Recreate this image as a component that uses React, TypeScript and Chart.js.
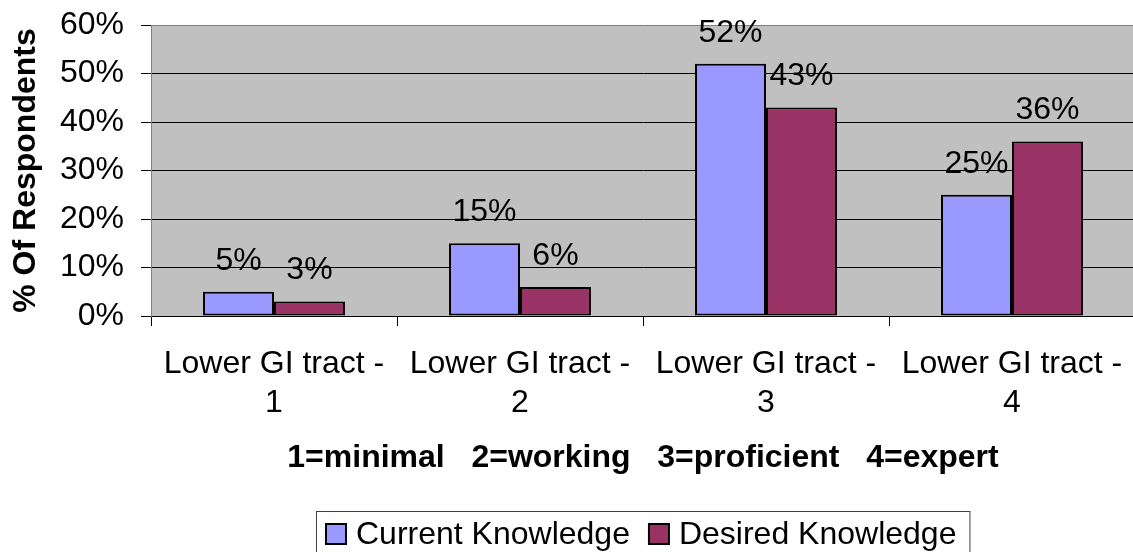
import React, { useEffect, useRef } from "react";
import { Chart, registerables } from "chart.js";

Chart.register(...registerables);

const categories: string[][] = [
  ["Lower GI tract -", "1"],
  ["Lower GI tract -", "2"],
  ["Lower GI tract -", "3"],
  ["Lower GI tract -", "4"],
];
const currentKnowledge: number[] = [5, 15, 52, 25];
const desiredKnowledge: number[] = [3, 6, 43, 36];
const seriesNames: string[] = ["Current Knowledge", "Desired Knowledge"];
const yAxisTitle = "% Of Respondents";
const xAxisTitle = "1=minimal   2=working   3=proficient   4=expert";

const FONT = '"Liberation Sans", Arial, Helvetica, sans-serif';
const FS = 32;
const BLUE = "#9999FF";
const MAROON = "#993366";
const PLOT_BG = "#C0C0C0";

const plotBackground = {
  id: "plotBackground",
  beforeDraw(chart: any) {
    const { ctx, chartArea } = chart;
    ctx.save();
    ctx.fillStyle = PLOT_BG;
    ctx.fillRect(chartArea.left, chartArea.top, chartArea.right - chartArea.left, chartArea.bottom - chartArea.top);
    ctx.restore();
  },
};

const valueLabels = {
  id: "valueLabels",
  afterDatasetsDraw(chart: any) {
    const ctx = chart.ctx;
    ctx.save();
    ctx.font = `${FS}px ${FONT}`;
    ctx.fillStyle = "#000";
    ctx.textAlign = "center";
    ctx.textBaseline = "alphabetic";
    chart.data.datasets.forEach((ds: any, i: number) => {
      chart.getDatasetMeta(i).data.forEach((bar: any, j: number) => {
        ctx.fillText(ds.data[j] + "%", bar.x, bar.y - 22);
      });
    });
    ctx.restore();
  },
};

const boxedLegend = {
  id: "boxedLegend",
  afterDraw(chart: any) {
    const ctx = chart.ctx;
    ctx.save();
    ctx.font = `${FS}px ${FONT}`;
    const items = chart.data.datasets.map((ds: any) => ({
      label: ds.label as string,
      color: ds.backgroundColor as string,
      w: ctx.measureText(ds.label).width,
    }));
    const box = 22, gapBT = 9, gapItems = 18, padL = 9, padR = 13;
    let total = padL + padR + gapItems * (items.length - 1);
    items.forEach((it: any) => (total += box + gapBT + it.w));
    const cx = (chart.chartArea.left + chart.chartArea.right) / 2;
    const left = Math.round(cx - total / 2);
    const top = chart.height - 41;
    ctx.strokeStyle = "#404040";
    ctx.lineWidth = 1;
    ctx.strokeRect(left + 0.5, top + 0.5, total, 80);
    let x = left + padL;
    const baseline = top + 33;
    items.forEach((it: any) => {
      ctx.fillStyle = it.color;
      ctx.fillRect(x + 1, top + 13, box - 2, box - 2);
      ctx.strokeStyle = "#000";
      ctx.lineWidth = 2;
      ctx.strokeRect(x + 1, top + 13, box - 2, box - 2);
      x += box + gapBT;
      ctx.fillStyle = "#000";
      ctx.textAlign = "left";
      ctx.textBaseline = "alphabetic";
      ctx.fillText(it.label, x, baseline);
      x += it.w + gapItems;
    });
    ctx.restore();
  },
};

export default function App() {
  const ref = useRef<HTMLCanvasElement | null>(null);

  useEffect(() => {
    if (!ref.current) return;
    const chart = new Chart(ref.current, {
      type: "bar",
      data: {
        labels: categories,
        datasets: [
          {
            label: seriesNames[0],
            data: currentKnowledge,
            backgroundColor: BLUE,
            borderColor: "#000",
            borderWidth: 2,
            borderSkipped: false,
          },
          {
            label: seriesNames[1],
            data: desiredKnowledge,
            backgroundColor: MAROON,
            borderColor: "#000",
            borderWidth: 2,
            borderSkipped: false,
          },
        ],
      },
      options: {
        responsive: false,
        animation: false,
        devicePixelRatio: 1,
        layout: { padding: { left: 0, right: 1, top: 25, bottom: 75 } },
        datasets: { bar: { categoryPercentage: 0.577, barPercentage: 1 } },
        plugins: {
          legend: { display: false },
          tooltip: { enabled: false },
        },
        scales: {
          x: {
            type: "category",
            grid: {
              offset: true,
              drawOnChartArea: false,
              drawTicks: true,
              tickLength: 10,
              color: "#000",
            },
            border: { display: true, color: "#000", width: 1 },
            ticks: {
              color: "#000",
              font: { family: FONT, size: FS, lineHeight: 1.22 },
              padding: 19,
              maxRotation: 0,
              minRotation: 0,
              autoSkip: false,
            },
            title: {
              display: true,
              text: xAxisTitle,
              color: "#000",
              font: { family: FONT, size: FS, weight: "bold", lineHeight: 1.2 },
              padding: { top: 0, bottom: 0 },
            },
            afterFit(scale: any) {
              scale.height = 161;
              scale.paddingLeft = 0;
              scale.paddingRight = 0;
            },
          },
          y: {
            min: 0,
            max: 60,
            grid: {
              color: (c: any) => (c.tick && c.tick.value === 60 ? "#808080" : "#000"),
              tickColor: "#000",
              tickLength: 10,
              lineWidth: 1,
            },
            border: { display: true, color: "#808080", width: 1 },
            ticks: {
              stepSize: 10,
              color: "#000",
              padding: 17,
              font: { family: FONT, size: FS },
              callback: (v: any) => v + "%",
            },
            title: {
              display: true,
              text: yAxisTitle,
              color: "#000",
              font: { family: FONT, size: FS, weight: "bold", lineHeight: 1.2 },
              padding: { top: 7, bottom: 0 },
            },
            afterFit(scale: any) {
              scale.width = 151;
              scale.paddingTop = 0;
              scale.paddingBottom = 0;
            },
          },
        },
      },
      plugins: [plotBackground, valueLabels, boxedLegend],
    });
    return () => chart.destroy();
  }, []);

  return (
    <div style={{ position: "fixed", left: 0, top: 0, width: 1136, height: 552, background: "#fff" }}>
      <canvas ref={ref} width={1136} height={552} style={{ display: "block", width: 1136, height: 552 }} />
    </div>
  );
}
